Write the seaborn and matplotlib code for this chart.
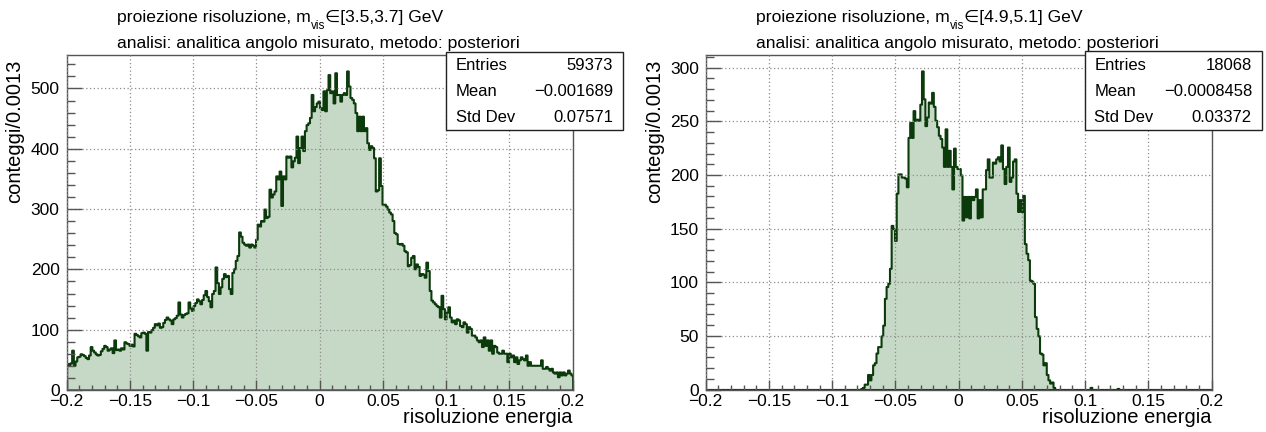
import numpy as np
import pandas as pd
import matplotlib
matplotlib.use("Agg")
import matplotlib.pyplot as plt
from matplotlib.patches import Rectangle
from matplotlib.ticker import MultipleLocator, FixedLocator, FixedFormatter
import seaborn as sns

sns.set_style("white")
plt.rcParams["font.family"] = ["Liberation Sans", "DejaVu Sans"]
plt.rcParams["text.color"] = "black"
plt.rcParams["axes.labelcolor"] = "black"
plt.rcParams["xtick.labelcolor"] = "black"
plt.rcParams["ytick.labelcolor"] = "black"

# ---------------- data ----------------
x_min, x_max, n_bins = -0.2, 0.2, 300

counts_left = [
    44, 42, 45, 66, 41, 48, 55, 56, 60, 59,
    57, 54, 52, 58, 72, 66, 63, 60, 58, 59,
    65, 69, 74, 72, 66, 68, 70, 62, 83, 67,
    68, 66, 70, 68, 80, 78, 77, 74, 76, 73,
    94, 92, 90, 88, 95, 96, 94, 66, 97, 96,
    100, 104, 110, 108, 111, 104, 105, 112, 117, 121,
    118, 116, 110, 118, 120, 124, 146, 126, 121, 125,
    127, 128, 146, 136, 132, 140, 145, 151, 148, 143,
    150, 158, 165, 155, 148, 138, 160, 165, 204, 178,
    160, 171, 185, 193, 188, 190, 168, 160, 195, 201,
    215, 223, 262, 255, 245, 242, 240, 242, 237, 242,
    240, 237, 250, 275, 272, 281, 280, 300, 286, 288,
    333, 320, 325, 330, 355, 350, 363, 306, 355, 350,
    388, 386, 388, 370, 380, 386, 421, 377, 402, 421,
    397, 430, 440, 443, 452, 490, 463, 470, 476, 479,
    468, 465, 496, 463, 498, 523, 493, 496, 476, 526,
    490, 490, 479, 490, 493, 490, 529, 504, 485, 482,
    476, 460, 430, 454, 430, 454, 430, 435, 410, 399,
    405, 402, 385, 330, 332, 385, 339, 308, 308, 305,
    300, 295, 292, 281, 261, 259, 243, 242, 243, 240,
    231, 229, 206, 208, 220, 223, 201, 209, 205, 190,
    193, 192, 187, 212, 198, 165, 149, 146, 143, 140,
    138, 121, 157, 135, 118, 129, 138, 121, 113, 116,
    110, 118, 116, 107, 105, 113, 110, 96, 105, 102,
    91, 91, 88, 83, 80, 83, 72, 88, 74, 83,
    66, 83, 61, 74, 72, 63, 61, 61, 66, 61,
    61, 47, 61, 55, 58, 47, 55, 44, 50, 55,
    52, 50, 58, 41, 47, 41, 41, 41, 41, 41,
    41, 50, 36, 36, 39, 36, 33, 36, 30, 28,
    30, 22, 30, 25, 30, 25, 28, 33, 28, 25,
]

counts_right = [
    0, 0, 0, 0, 0, 0, 0, 0, 0, 0,
    0, 0, 0, 0, 0, 0, 0, 0, 0, 0,
    0, 0, 0, 0, 0, 0, 0, 0, 0, 0,
    0, 0, 0, 0, 0, 0, 0, 0, 0, 0,
    0, 0, 0, 0, 0, 0, 0, 0, 0, 0,
    0, 0, 0, 0, 0, 0, 0, 0, 0, 0,
    0, 0, 0, 0, 0, 0, 0, 0, 0, 0,
    0, 0, 0, 0, 0, 0, 0, 0, 0, 0,
    0, 0, 0, 0, 0, 0, 0, 0, 0, 0,
    0, 0, 1, 2, 5, 5, 14, 9, 14, 23,
    25, 34, 40, 40, 50, 60, 85, 96, 99, 113,
    153, 150, 139, 183, 201, 201, 198, 198, 197, 189,
    235, 249, 235, 260, 251, 252, 251, 266, 297, 271,
    246, 254, 268, 267, 277, 264, 251, 245, 237, 234,
    226, 208, 243, 208, 223, 208, 187, 225, 208, 206,
    206, 200, 158, 180, 161, 180, 160, 180, 177, 180,
    187, 160, 177, 161, 187, 187, 205, 215, 198, 198,
    212, 211, 215, 217, 213, 228, 206, 192, 208, 226,
    194, 198, 213, 215, 183, 166, 177, 166, 181, 136,
    127, 121, 102, 101, 99, 68, 57, 50, 34, 33,
    23, 25, 14, 9, 6, 7, 2, 0, 0, 0,
    0, 0, 0, 0, 0, 0, 0, 0, 0, 0,
    0, 0, 0, 0, 0, 0, 0, 0, 2, 0,
    0, 0, 0, 0, 0, 0, 0, 0, 0, 0,
    0, 0, 0, 0, 1, 0, 0, 0, 0, 0,
    0, 0, 0, 0, 0, 0, 0, 0, 0, 0,
    0, 0, 0, 0, 0, 0, 0, 0, 0, 0,
    0, 0, 0, 0, 0, 0, 0, 0, 0, 0,
    0, 0, 0, 0, 0, 0, 0, 0, 0, 0,
    0, 0, 0, 0, 0, 0, 0, 0, 0, 0,
]

x_ticks = [-0.2, -0.15, -0.1, -0.05, 0.0, 0.05, 0.1, 0.15, 0.2]
x_tick_labels = ["\u22120.2", "\u22120.15", "\u22120.1", "\u22120.05", "0",
                 "0.05", "0.1", "0.15", "0.2"]

title1_left = ("proiezione risoluzione, m", "vis", "\u2208[3.5,3.7] GeV")
title1_right = ("proiezione risoluzione, m", "vis", "\u2208[4.9,5.1] GeV")
title2 = "analisi: analitica angolo misurato, metodo: posteriori"
x_label = "risoluzione energia"
y_label = "conteggi/0.0013"

stats_names = ["Entries", "Mean", "Std Dev"]
stats_left = ["59373", "\u22120.001689", "0.07571"]
stats_right = ["18068", "\u22120.0008458", "0.03372"]

y_major_left, y_minor_left = 100, 20
y_major_right, y_minor_right = 50, 10

# ---------------- style ----------------
W, H = 1266, 432
FILL = "#c6d9c6"
EDGE = "#0b3a0b"
AX_COL = "#555555"
GRID_COL = "#8c8c8c"

fig = plt.figure(figsize=(W / 100, H / 100), dpi=100)
fig.patch.set_facecolor("white")


def px_rect(x0, y0, x1, y1):
    """pixel box (top-left origin) -> figure fraction [l, b, w, h]"""
    return [x0 / W, 1 - y1 / H, (x1 - x0) / W, (y1 - y0) / H]


def draw_panel(ax_box, counts, y_major, y_minor, title1, stats_vals,
               title_x, box):
    ax = fig.add_axes(px_rect(*ax_box))
    edges = list(np.linspace(x_min, x_max, n_bins + 1))
    centers = [0.5 * (a + b) for a, b in zip(edges[:-1], edges[1:])]
    df = pd.DataFrame({"x": centers, "w": counts})
    sns.histplot(data=df, x="x", weights="w", bins=edges, element="step",
                 fill=True, ax=ax, facecolor=FILL, edgecolor=EDGE,
                 linewidth=1.5, alpha=1)
    ax.set_xlim(x_min, x_max)
    ax.set_ylim(0, max(counts) * 1.05)

    ax.xaxis.set_major_locator(FixedLocator(x_ticks))
    ax.xaxis.set_major_formatter(FixedFormatter(x_tick_labels))
    ax.xaxis.set_minor_locator(MultipleLocator(0.01))
    ax.yaxis.set_major_locator(MultipleLocator(y_major))
    ax.yaxis.set_minor_locator(MultipleLocator(y_minor))

    ax.tick_params(axis="x", which="major", direction="in", length=7.5,
                   width=1, color=AX_COL, labelsize=12.5, pad=3)
    ax.tick_params(axis="x", which="minor", direction="in", length=3.8,
                   width=1, color=AX_COL)
    ax.tick_params(axis="y", which="major", direction="in", length=11,
                   width=1, color=AX_COL, labelsize=12.5, pad=5)
    ax.tick_params(axis="y", which="minor", direction="in", length=5.5,
                   width=1, color=AX_COL)
    ax.tick_params(which="both", top=False, right=False, bottom=True,
                   left=True)

    for sp in ax.spines.values():
        sp.set_color(AX_COL)
        sp.set_linewidth(1)

    ax.set_axisbelow(False)
    ax.grid(True, which="major", color=GRID_COL, linestyle=(0, (1, 2)),
            linewidth=0.9)

    ax.set_xlabel(x_label, fontsize=14.5, loc="right")
    ax.xaxis.set_label_coords(1.0, -0.055)
    ax.set_ylabel(y_label, fontsize=14.5, loc="top")
    ax.yaxis.set_label_coords(-0.083, 0.985)

    # title lines (left aligned, two rows)
    renderer = fig.canvas.get_renderer()
    y1 = 1 - 22 / H
    t = fig.text(title_x / W, y1, title1[0], fontsize=12.6, ha="left",
                 va="baseline")
    bb = t.get_window_extent(renderer)
    t2 = fig.text(bb.x1 / W, 1 - 29 / H, title1[1], fontsize=8.5, ha="left",
                  va="baseline")
    bb2 = t2.get_window_extent(renderer)
    fig.text(bb2.x1 / W, y1, title1[2], fontsize=12.6, ha="left",
             va="baseline", family=["Liberation Sans", "DejaVu Sans"])
    fig.text(title_x / W, 1 - 48 / H, title2, fontsize=12.6, ha="left",
             va="baseline")

    # statistics box
    bx0, by0, bx1, by1 = box
    rect = Rectangle((bx0 / W, 1 - by1 / H), (bx1 - bx0) / W,
                     (by1 - by0) / H, transform=fig.transFigure,
                     facecolor="white", edgecolor="#222222", linewidth=1,
                     zorder=5)
    fig.add_artist(rect)
    row_y = [65, 91.5, 118]
    for name, val, ry in zip(stats_names, stats_vals, row_y):
        fig.text((bx0 + 10) / W, 1 - ry / H, name, fontsize=12, ha="left",
                 va="center", zorder=6)
        fig.text((bx1 - 10) / W, 1 - ry / H, val, fontsize=12, ha="right",
                 va="center", zorder=6)
    return ax


draw_panel((66.6, 55, 572.6, 390), counts_left, y_major_left, y_minor_left,
           title1_left, stats_left, 117, (446, 52, 623, 130))
draw_panel((705.7, 55, 1211.5, 389.5), counts_right, y_major_right,
           y_minor_right, title1_right, stats_right, 756,
           (1084.5, 51, 1262, 130))

fig.savefig("out.png", dpi=100)
